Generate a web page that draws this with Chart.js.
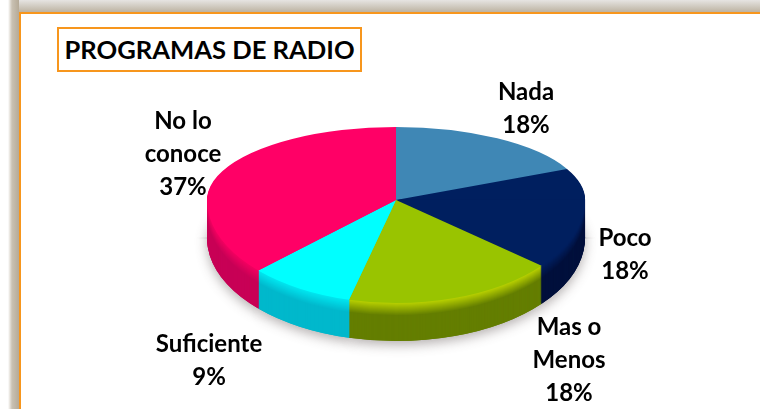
<!DOCTYPE html>
<html>
<head>
<meta charset="utf-8">
<script src="https://cdn.jsdelivr.net/npm/chart.js@4"></script>
<style>
html,body{margin:0;padding:0;width:760px;height:409px;overflow:hidden;background:#fff;}
#back{position:absolute;left:0;top:0;width:760px;height:409px;
  background:linear-gradient(to bottom,#e6e4e2 0,#bdb3a2 12px,#bdb3a2 100%);}
#fade{position:absolute;left:0;top:0;width:19px;height:409px;
  background:linear-gradient(to right,#fff 0,#fff 8px,#c9c1b3 12px,#b5aa97 19px);}
#frame{position:absolute;left:19px;top:12px;width:760px;height:420px;background:#fff;border:2px solid #f7961d;box-sizing:border-box;}
#title{position:absolute;left:57px;top:27px;width:305px;height:45px;box-sizing:border-box;border:2px solid #f7961d;background:#fff;
  font:bold 25.6px Lato,sans-serif;color:#000;text-align:center;line-height:41px;white-space:nowrap;}
canvas{position:absolute;left:0;top:0;}
</style>
</head>
<body>
<div id="back"></div>
<div id="fade"></div>
<div id="frame"></div>
<div id="title">PROGRAMAS DE RADIO</div>
<div style="position:absolute;left:0;top:0;width:760px;height:409px"><canvas id="myChart"></canvas></div>
<script>
var categories=["Nada","Poco","Mas o Menos","Suficiente","No lo conoce"];
var values=[18,18,18,9,37];
var labelLines=[["Nada","18%"],["Poco","18%"],["Mas o","Menos","18%"],["Suficiente","9%"],["No lo","conoce","37%"]];
var colors=["#3f87b5","#001f5f","#99c400","#00ffff","#ff0066"];
var wallTop=["#3f87b5","#001f5f","#b4cc00","#00e4ee","#f00060"];
var wallBottom=["#2a6080","#00103c","#647e00","#00b8cc","#c80056"];

// label centres, one per slice
var labelX=[526,625,569,209,183];
var labelY=[92,238,327,344,121];
var lineGap=33;
var depth=38;

function mix(a,b,t){
    var pa=parseInt(a.slice(1),16),pb=parseInt(b.slice(1),16);
    var r=(pa>>16)+((pb>>16)-(pa>>16))*t;
    var g=((pa>>8)&255)+(((pb>>8)&255)-((pa>>8)&255))*t;
    var bl=(pa&255)+((pb&255)-(pa&255))*t;
    return "rgb("+Math.round(r)+","+Math.round(g)+","+Math.round(bl)+")";
}

// draw the slices flattened, upper half less tall than lower half (fake perspective)
function drawFlat(chart,meta,d,colorFor,shadow){
    var ctx=chart.ctx;
    var cx=meta.data[0].x,cy=meta.data[0].y,r=meta.data[0].outerRadius;
    var halves=[[0,cy+d+0.5,73/r],[cy+d-0.5,409,103/r]];
    halves.forEach(function (h) {
        ctx.save();
        ctx.beginPath();
        ctx.rect(0,h[0],760,h[1]-h[0]);
        ctx.clip();
        if(shadow){
            ctx.shadowColor="rgba(90,80,80,0.45)";
            ctx.shadowBlur=12;
            ctx.shadowOffsetY=4;
        }
        ctx.translate(cx,cy+d);
        ctx.scale(1,h[2]);
        ctx.translate(-cx,-cy);
        meta.data.forEach(function (arc,i) {
            var saved=arc.options;
            var o=Object.create(saved);
            o.backgroundColor=colorFor(i);
            o.borderColor=colorFor(i);
            o.borderWidth=0;
            arc.options=o;
            arc.draw(ctx);
            arc.options=saved;
        });
        ctx.restore();
    });
}

var tiltPlugin={
    id:"tilt",
    beforeDatasetDraw:function (chart,args) {
        var meta=args.meta;
        drawFlat(chart,meta,depth,function (i) {return wallBottom[i];},true);
        for(var d=depth;d>0;d--){
            var t=Math.min(1,(d-1)/12);
            drawFlat(chart,meta,d,function (i) {return mix(wallTop[i],wallBottom[i],t);},false);
        }
        drawFlat(chart,meta,0,function (i) {return colors[i];},false);
        return false;
    }
};

var labelPlugin={
    id:"sliceLabels",
    afterDraw:function (chart) {
        var ctx=chart.ctx;
        ctx.save();
        ctx.font="bold 24px Lato, sans-serif";
        ctx.fillStyle="#000";
        ctx.textAlign="center";
        ctx.textBaseline="middle";
        for(var i=0;i<labelLines.length;i++){
            for(var j=0;j<labelLines[i].length;j++){
                ctx.fillText(labelLines[i][j],labelX[i],labelY[i]+j*lineGap);
            }
        }
        ctx.restore();
    }
};

var ctx=document.getElementById("myChart").getContext("2d");
var myChart=new Chart(ctx,{
    type:"pie",
    data:{
        labels:categories,
        datasets:[{data:values,backgroundColor:colors,borderWidth:0,radius:189}]
    },
    options:{
        responsive:true,
        maintainAspectRatio:false,
        animation:false,
        layout:{padding:{left:32,bottom:9}},
        plugins:{legend:{display:false},title:{display:false},tooltip:{enabled:false}}
    },
    plugins:[tiltPlugin,labelPlugin]
});
</script>
</body>
</html>
